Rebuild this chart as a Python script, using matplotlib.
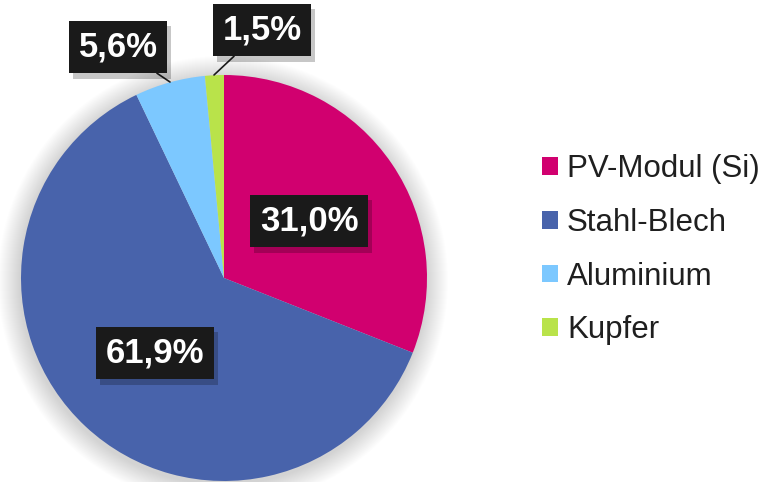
import matplotlib.pyplot as plt
import matplotlib.patheffects as pe
from matplotlib.patches import Circle, Patch

plt.rcParams['font.family'] = ['Liberation Sans', 'DejaVu Sans']

labels = ['PV-Modul (Si)', 'Stahl-Blech', 'Aluminium', 'Kupfer']
values = [31.0, 61.9, 5.6, 1.5]
value_texts = ['31,0%', '61,9%', '5,6%', '1,5%']
colors = ['#D1006F', '#4863AB', '#7CC8FF', '#B9E34A']

W, H = 774, 482
fig = plt.figure(figsize=(W / 100, H / 100), dpi=100)
ax = fig.add_axes([0, 0, 1, 1])

cx, cy, r = 224, H - 278, 203

# soft shadow behind the pie
for k in range(22, 0, -1):
    ax.add_patch(Circle((cx - 1, cy - 3), r + k, color='black', alpha=0.006, lw=0, zorder=0))

wedges, _ = ax.pie(values, colors=colors, startangle=90, counterclock=False,
                   center=(cx, cy), radius=r, frame=True,
                   wedgeprops=dict(linewidth=0))
ax.set_xlim(0, W)
ax.set_ylim(0, H)
ax.set_aspect('equal')
ax.axis('off')

# label boxes (pixel positions from top-left): text centre, leader end
label_pos = [(309, 221, None), (155, 353, None), (118, 47, (170, 82)), (262, 30, (214, 75))]
shadow = [pe.SimplePatchShadow(offset=(3, -4), shadow_rgbFace='black', alpha=0.22), pe.Normal()]
box = dict(boxstyle='square,pad=0.28', fc='#1A1A1A', ec='none')

for txt, (tx, ty, tgt) in zip(value_texts, label_pos):
    if tgt is not None:
        t = ax.annotate(txt, xy=(tgt[0], H - tgt[1]), xytext=(tx, H - ty),
                        ha='center', va='center',
                        fontsize=25, fontweight='bold', color='white', bbox=box,
                        arrowprops=dict(arrowstyle='-', color='#1A1A1A', lw=1.2,
                                        shrinkA=0, shrinkB=0),
                        zorder=5)
    else:
        t = ax.text(tx, H - ty, txt, ha='center', va='center',
                    fontsize=25, fontweight='bold', color='white', bbox=box,
                    zorder=5)
    t.get_bbox_patch().set_path_effects(shadow)

handles = [Patch(facecolor=c, edgecolor='none', label=l) for c, l in zip(colors, labels)]
fig.legend(handles=handles, loc='center left', bbox_to_anchor=(0.664, 0.482),
           frameon=False, fontsize=22.5, labelcolor='#1F1F1F',
           handlelength=0.5, handleheight=0.5, handletextpad=0.3,
           labelspacing=0.76)

fig.savefig('out.png', dpi=100, facecolor='white')
